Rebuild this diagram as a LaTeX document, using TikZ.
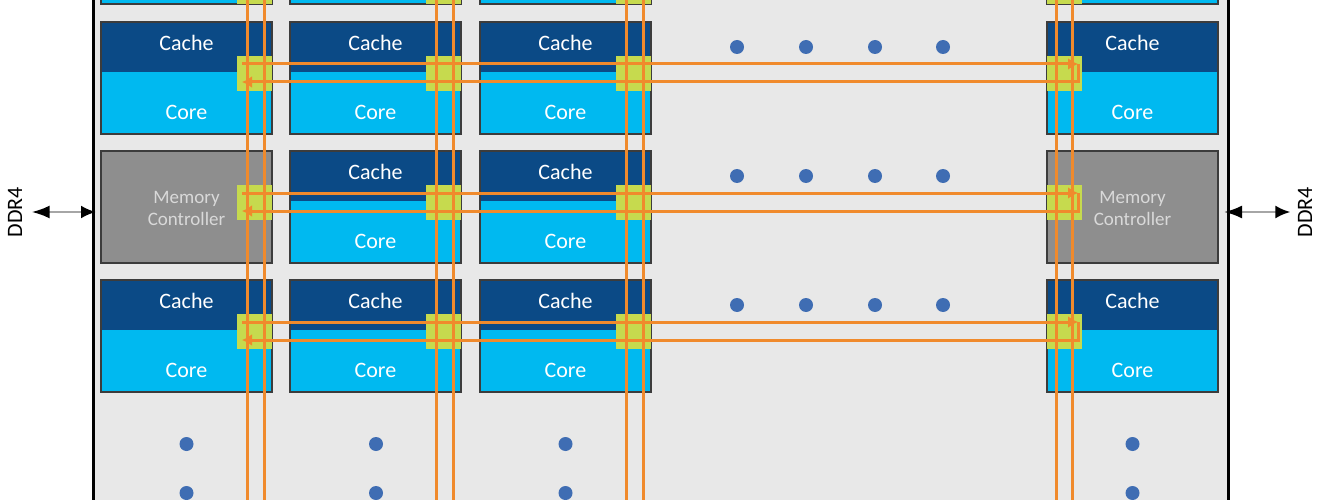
\documentclass[tikz,border=0pt]{standalone}
\usepackage{fontspec}
\setmainfont{Carlito}
\usetikzlibrary{arrows.meta}

\definecolor{diegray}{HTML}{E8E8E8}
\definecolor{cacheblue}{HTML}{0B4A86}
\definecolor{corecyan}{HTML}{00B9F0}
\definecolor{mcgray}{HTML}{8E8E8E}
\definecolor{mctext}{HTML}{D9D9D9}
\definecolor{routerlime}{HTML}{C6DA4E}
\definecolor{wireorange}{HTML}{F08A2C}
\definecolor{dotblue}{HTML}{3F6DB3}
\definecolor{edgegray}{HTML}{3C3C3C}

\tikzset{
    tilebox/.style={draw=edgegray, line width=1.2pt},
    tilelabel/.style={text=white, font=\fontsize{22}{26}\selectfont},
    mclabel/.style={text=mctext, align=center, font=\fontsize{19}{22}\selectfont},
    router/.style={fill=routerlime, minimum size=35pt, inner sep=0pt},
    wire/.style={draw=wireorange, line width=3pt},
    ringtip/.style={-{Latex[length=10pt,width=12pt]}},
    bus/.style={draw=black!35, line width=2.5pt,
        {Latex[length=18pt,width=13pt,color=black]}-{Latex[length=15pt,width=13pt,color=black]}},
    ddrlabel/.style={rotate=90, font=\fontsize{22}{26}\selectfont}
}

% one cache/core tile: column, row, left x, top y, router x offset, router y offset
\newcommand{\cctile}[6]{
    \fill[cacheblue] (#3,#4) rectangle ++(171,50);
    \fill[corecyan] (#3,#4+50) rectangle ++(171,62);
    \draw[tilebox] (#3,#4) rectangle ++(171,112);
    \node[tilelabel] (cache-#1-#2) at (#3+85.5,#4+21) {Cache};
    \node[tilelabel] (core-#1-#2) at (#3+85.5,#4+90) {Core};
    \node[router] (rtr-#1-#2) at (#3+#5,#4+#6) {};
}

\begin{document}
\begin{tikzpicture}[x=1pt,y=-1pt]
    \useasboundingbox (0,0) rectangle (1320,500);
    \clip (0,0) rectangle (1320,500);
    \fill[white] (0,0) rectangle (1320,500);
    \fill[diegray] (93,0) rectangle (1228,500);
    \draw[line width=3pt] (93,-5) -- (93,505);
    \draw[line width=3pt] (1228,-5) -- (1228,505);

    % tiles
    \foreach \c/\x/\p in {1/101/153.5,2/290/153.5,3/480/153.5,5/1047/17.5} {
        \foreach \r/\y in {1/22,3/280} {
            \cctile{\c}{\r}{\x}{\y}{\p}{51.5}
        }
        % row cut off at the top edge
        \fill[corecyan] (\x,-20) rectangle ++(171,24);
        \draw[tilebox] (\x,-20) rectangle ++(171,24);
        \node[router] (rtr-\c-0) at (\x+\p,-13.5) {};
    }
    \cctile{2}{2}{290}{151}{153.5}{51.5}
    \cctile{3}{2}{480}{151}{153.5}{51.5}

    % memory controllers
    \draw[tilebox, fill=mcgray] (101,151) rectangle ++(171,112);
    \draw[tilebox, fill=mcgray] (1047,151) rectangle ++(171,112);
    \node[mclabel] (mc-l) at (186.5,208) {Memory\\Controller};
    \node[mclabel] (mc-r) at (1132.5,208) {Memory\\Controller};
    \node[router] (rtr-1-2) at (254.5,202.5) {};
    \node[router] (rtr-5-2) at (1064.5,202.5) {};

    % mesh wires
    \foreach \x in {247,264,436,453,626,643,1056,1072}
        \draw[wire] (\x,-5) -- (\x,505);
    \foreach \r/\y in {1/64,2/193,3/322} {
        \coordinate (ring-a-\r) at (242,\y);
        \coordinate (ring-b-\r) at (1078,\y);
        \coordinate (ring-c-\r) at (1078,\y+18);
        \coordinate (ring-d-\r) at (242,\y+18);
        \draw[wire, ringtip] (ring-a-\r) -- (ring-b-\r);
        \draw[wire, ringtip] (ring-b-\r) -- (ring-c-\r) -- (ring-d-\r);
    }

    % more tiles
    \foreach \x in {737,806,875,943}
        \foreach \y in {47,176,305}
            \fill[dotblue] (\x,\y) circle (7);
    \foreach \x in {186.5,376,565.5,1132.5}
        \foreach \y in {444,493}
            \fill[dotblue] (\x,\y) circle (7);

    % DDR4 channels
    \node[ddrlabel] (ddr-l) at (15,212) {DDR4};
    \node[ddrlabel] (ddr-r) at (1305,212) {DDR4};
    \coordinate (mc-l-in) at (96,212);
    \coordinate (mc-r-out) at (1224,212);
    \draw[bus, shorten <=6pt] (ddr-l) -- (mc-l-in);
    \draw[bus, shorten >=4pt] (mc-r-out) -- (ddr-r);
\end{tikzpicture}
\end{document}
